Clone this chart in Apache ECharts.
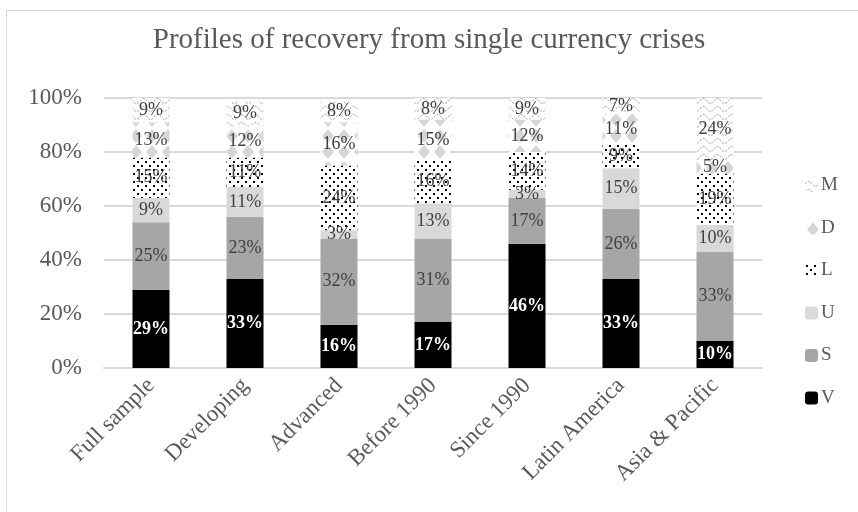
<!DOCTYPE html>
<html>
<head>
<meta charset="utf-8">
<script src="https://cdn.jsdelivr.net/npm/echarts@6/dist/echarts.min.js"></script>
<style>
  html, body { margin: 0; padding: 0; background: #fff; }
  #chart { width: 858px; height: 512px; }
</style>
</head>
<body>
<div id="chart"></div>
<script>
// data, bottom of stack first
const categories = ['Full sample', 'Developing', 'Advanced', 'Before 1990', 'Since 1990', 'Latin America', 'Asia & Pacific']
const V = [29, 33, 16, 17, 46, 33, 10]
const S = [25, 23, 32, 31, 17, 26, 33]
const U = [9, 11, 3, 13, 3, 15, 10]
const L = [15, 11, 24, 16, 14, 9, 19]
const D = [13, 12, 16, 15, 12, 11, 5]
const M = [9, 9, 8, 8, 9, 7, 24]
const yTicks = [0, 20, 40, 60, 80, 100]

const FONT = '"Liberation Serif", "Times New Roman", serif'
const GREY = '#595959'

/// patterns

function tile(w, h, draw) {
  const c = document.createElement('canvas')
  c.width = w
  c.height = h
  const ctx = c.getContext('2d')
  ctx.fillStyle = '#fff'
  ctx.fillRect(0, 0, w, h)
  draw(ctx)
  return { image: c, repeat: 'repeat' }
}

const dots = tile(8, 8, ctx => {
  ctx.fillStyle = '#000'
  ctx.fillRect(1, 1, 2, 2)
  ctx.fillRect(5, 5, 2, 2)
})

const diamonds = tile(16, 16, ctx => {
  ctx.fillStyle = '#d6d6d6'
  ctx.beginPath()
  ctx.moveTo(8, 1); ctx.lineTo(14, 8); ctx.lineTo(8, 15); ctx.lineTo(2, 8)
  ctx.closePath()
  ctx.fill()
})

const waves = tile(14, 8, ctx => {
  ctx.strokeStyle = '#9a9a9a'
  ctx.lineWidth = 1
  ctx.setLineDash([2, 1.5])
  ctx.beginPath()
  ctx.moveTo(0, 5)
  ctx.quadraticCurveTo(3.5, 0, 7, 5)
  ctx.quadraticCurveTo(10.5, 10, 14, 5)
  ctx.stroke()
})

/// series

function bar(name, data, color, label) {
  return {
    name, type: 'bar', stack: 'all', data,
    barWidth: 37,
    itemStyle: { color },
    label: Object.assign({
      show: true, position: 'inside',
      formatter: p => p.value + '%',
      fontFamily: FONT, fontSize: 18, color: '#404040'
    }, label || {})
  }
}

const chart = echarts.init(document.getElementById('chart'))
chart.setOption({
  animation: false,
  title: {
    text: 'Profiles of recovery from single currency crises',
    left: 'center', top: 21,
    textStyle: { fontFamily: FONT, fontSize: 29, fontWeight: 'normal', color: GREY }
  },
  graphic: [{
    type: 'rect', shape: { x: 6.5, y: 10.5, width: 860, height: 510 },
    style: { fill: 'none', stroke: '#d9d9d9', lineWidth: 1 }, silent: true
  }],
  legend: {
    orient: 'vertical', left: 800, top: 171,
    data: ['M', 'D', 'L', 'U', 'S', 'V'],
    itemWidth: 13, itemHeight: 13, itemGap: 23.5,
    textStyle: { fontFamily: FONT, fontSize: 19, color: GREY, padding: [0, 0, 0, -2] }
  },
  grid: { left: 104, right: 96, top: 98, bottom: 144 },
  xAxis: {
    type: 'category', data: categories,
    axisLine: { lineStyle: { color: '#d9d9d9', width: 2 } },
    axisTick: { show: false },
    axisLabel: { rotate: 45, fontFamily: FONT, fontSize: 23, color: GREY, margin: 14 }
  },
  yAxis: {
    type: 'value', min: 0, max: 100, interval: 20,
    axisLabel: {
      formatter: v => yTicks.includes(v) ? v + '%' : '',
      fontFamily: FONT, fontSize: 23, color: GREY, margin: 22
    },
    splitLine: { lineStyle: { color: '#d9d9d9', width: 2 } }
  },
  series: [
    bar('V', V, '#000', { color: '#fff', fontWeight: 'bold' }),
    bar('S', S, '#a6a6a6'),
    bar('U', U, '#d9d9d9'),
    bar('L', L, dots),
    bar('D', D, diamonds),
    bar('M', M, waves)
  ]
})
</script>
</body>
</html>
